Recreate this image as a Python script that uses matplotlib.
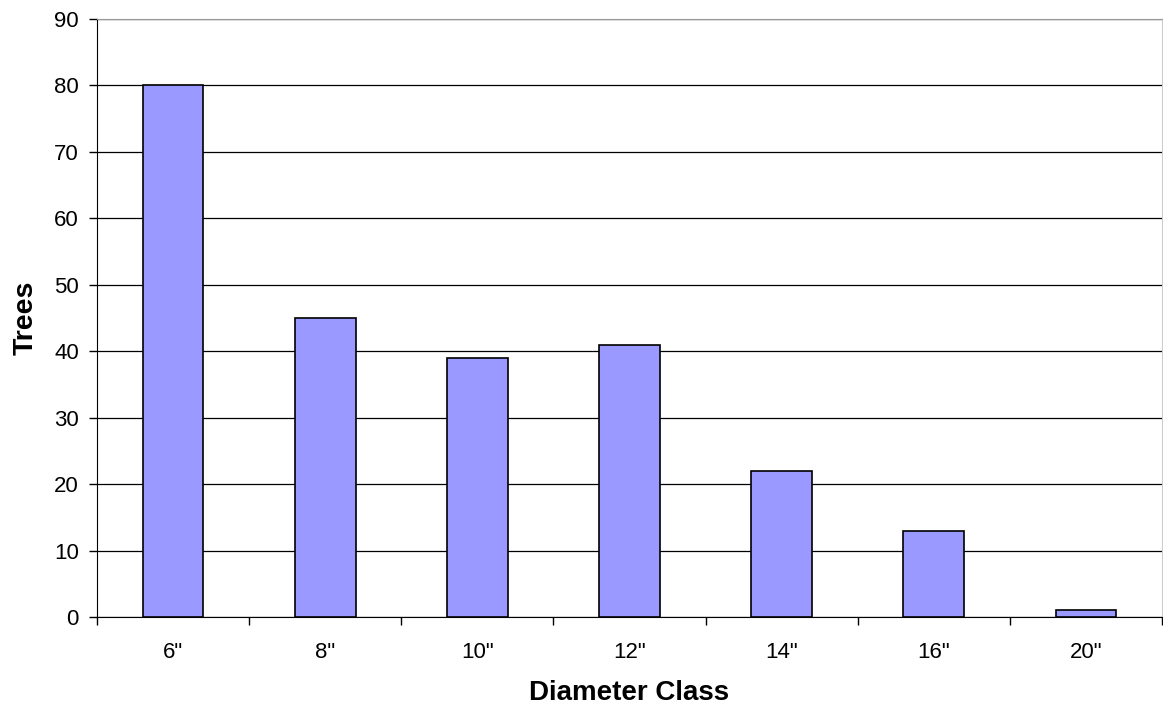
import matplotlib
matplotlib.use('Agg')
import matplotlib.pyplot as plt
import numpy as np

classes = ['6"', '8"', '10"', '12"', '14"', '16"', '20"']
trees = [80, 45, 39, 41, 22, 13, 1]

plt.rcParams['font.family'] = ['Liberation Sans', 'DejaVu Sans']

fig = plt.figure(figsize=(11.63, 7.07), dpi=100)
ax = fig.add_axes([97 / 1163, 1 - 617 / 707, (1162 - 97) / 1163, (617 - 19) / 707])

x = np.arange(len(classes))
ax.bar(x, trees, width=0.4, color='#9999ff', edgecolor='black', linewidth=1.2, zorder=3)

ax.set_xlim(-0.5, len(classes) - 0.5)
ax.set_ylim(0, 90)
ax.set_yticks(range(0, 91, 10))
ax.yaxis.grid(True, color='black', linewidth=0.9, zorder=0)

# category boundaries carry the tick marks, labels sit in the middle
ax.set_xticks(np.arange(-0.5, len(classes), 1.0))
ax.set_xticklabels([])
ax.set_xticks(x, minor=True)
ax.set_xticklabels(classes, minor=True)
ax.tick_params(axis='x', which='major', length=6, width=1, direction='out')
ax.tick_params(axis='x', which='minor', length=0, pad=18, labelsize=16)
ax.tick_params(axis='y', length=6, width=1, direction='out', labelsize=16, pad=7)

ax.spines['left'].set_color('black')
ax.spines['bottom'].set_color('black')
ax.spines['top'].set_color('#999999')
ax.spines['right'].set_color('#cccccc')

ax.set_xlabel('Diameter Class', fontsize=20, fontweight='bold', labelpad=12)
ax.set_ylabel('Trees', fontsize=20.5, fontweight='bold', labelpad=11)

fig.savefig('out.png', dpi=100)
